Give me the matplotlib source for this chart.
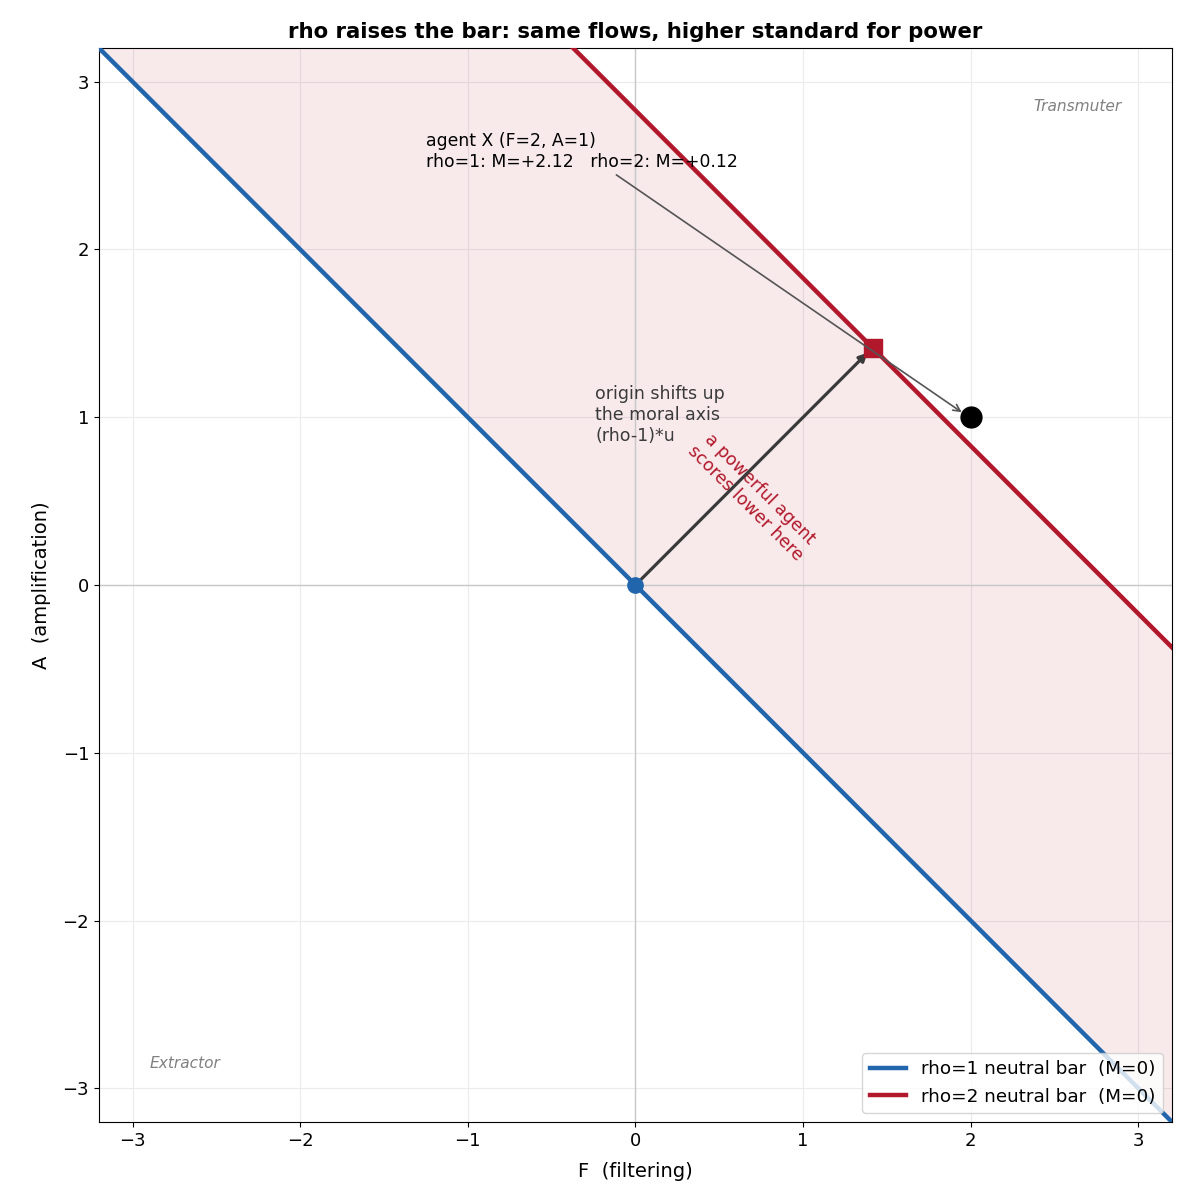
import numpy as np
import matplotlib.pyplot as plt

plt.rcParams['font.family'] = ['DejaVu Sans']

# data
rho_vals = [1, 2]
line_colors = ["#2166ac", "#b2182b"]
agent_F, agent_A = 2.0, 1.0
u = np.array([1.0, 1.0]) / np.sqrt(2)
shift = 2.0  # distance the neutral bar moves along u
xlim = (-3.2, 3.2)


def bar_line(x, offset):
    # neutral bar: (F + A)/sqrt2 = offset
    return offset * np.sqrt(2) - x


fig = plt.figure(figsize=(12.04, 12.04), dpi=100)
ax = fig.add_axes([0.0822, 0.0681, 0.8912, 0.892])

x = np.linspace(xlim[0], xlim[1], 400)
y1 = bar_line(x, 0)
y2 = bar_line(x, shift)

ax.fill_between(x, y1, y2, color="#b2182b", alpha=0.09, lw=0)
ax.axhline(0, color="#c8c8c8", lw=1, zorder=1)
ax.axvline(0, color="#c8c8c8", lw=1, zorder=1)
ax.plot(x, y1, color=line_colors[0], lw=3.2, label="rho=1 neutral bar  (M=0)", zorder=3)
ax.plot(x, y2, color=line_colors[1], lw=3.2, label="rho=2 neutral bar  (M=0)", zorder=3)

sq = shift * u
ax.annotate("", xy=(sq[0] - 0.03, sq[1] - 0.03), xytext=(0, 0),
            arrowprops=dict(arrowstyle="-|>", color="#3a3a3a", lw=2.3,
                            mutation_scale=12, shrinkA=0, shrinkB=0), zorder=4)
ax.plot([0], [0], "o", color=line_colors[0], ms=11, zorder=5)
ax.plot([sq[0]], [sq[1]], "s", color=line_colors[1], ms=13, zorder=5)
ax.plot([agent_F], [agent_A], "o", color="black", ms=15, zorder=5)

M1 = (agent_F + agent_A) / np.sqrt(2)
M2 = M1 - shift
ax.annotate(f"agent X (F={agent_F:.0f}, A={agent_A:.0f})\nrho=1: M={M1:+.2f}   rho=2: M={M2:+.2f}",
            xy=(agent_F - 0.04, agent_A + 0.02), xytext=(-1.25, 2.47),
            fontsize=12.4, ha="left", va="bottom",
            arrowprops=dict(arrowstyle="->", color="#555555", lw=1.2), zorder=6)

ax.text(-0.24, 1.19, "origin shifts up\nthe moral axis\n(rho-1)*u", fontsize=12.5,
        color="#3a3a3a", ha="left", va="top")
ax.text(0.70, 0.53, "a powerful agent\nscores lower here", fontsize=12.5,
        color="#b2182b", ha="center", va="center", rotation=-45,
        rotation_mode="anchor")

ax.text(2.9, 2.85, "Transmuter", fontsize=11.1, color="gray", style="italic", ha="right", va="center")
ax.text(-2.9, -2.85, "Extractor", fontsize=11.1, color="gray", style="italic", ha="left", va="center")

ax.set_xlim(*xlim)
ax.set_ylim(*xlim)
ax.grid(True, color="#ebebeb", lw=0.8)
ax.set_axisbelow(True)
ax.tick_params(labelsize=13)
ax.set_xlabel("F  (filtering)", fontsize=14, labelpad=8.5)
ax.set_ylabel("A  (amplification)", fontsize=14, labelpad=8.5)
ax.set_title("rho raises the bar: same flows, higher standard for power",
             fontsize=15.3, fontweight="bold", pad=7.5)
ax.legend(loc="lower right", fontsize=13.2)

fig.savefig("out.png", dpi=100)
